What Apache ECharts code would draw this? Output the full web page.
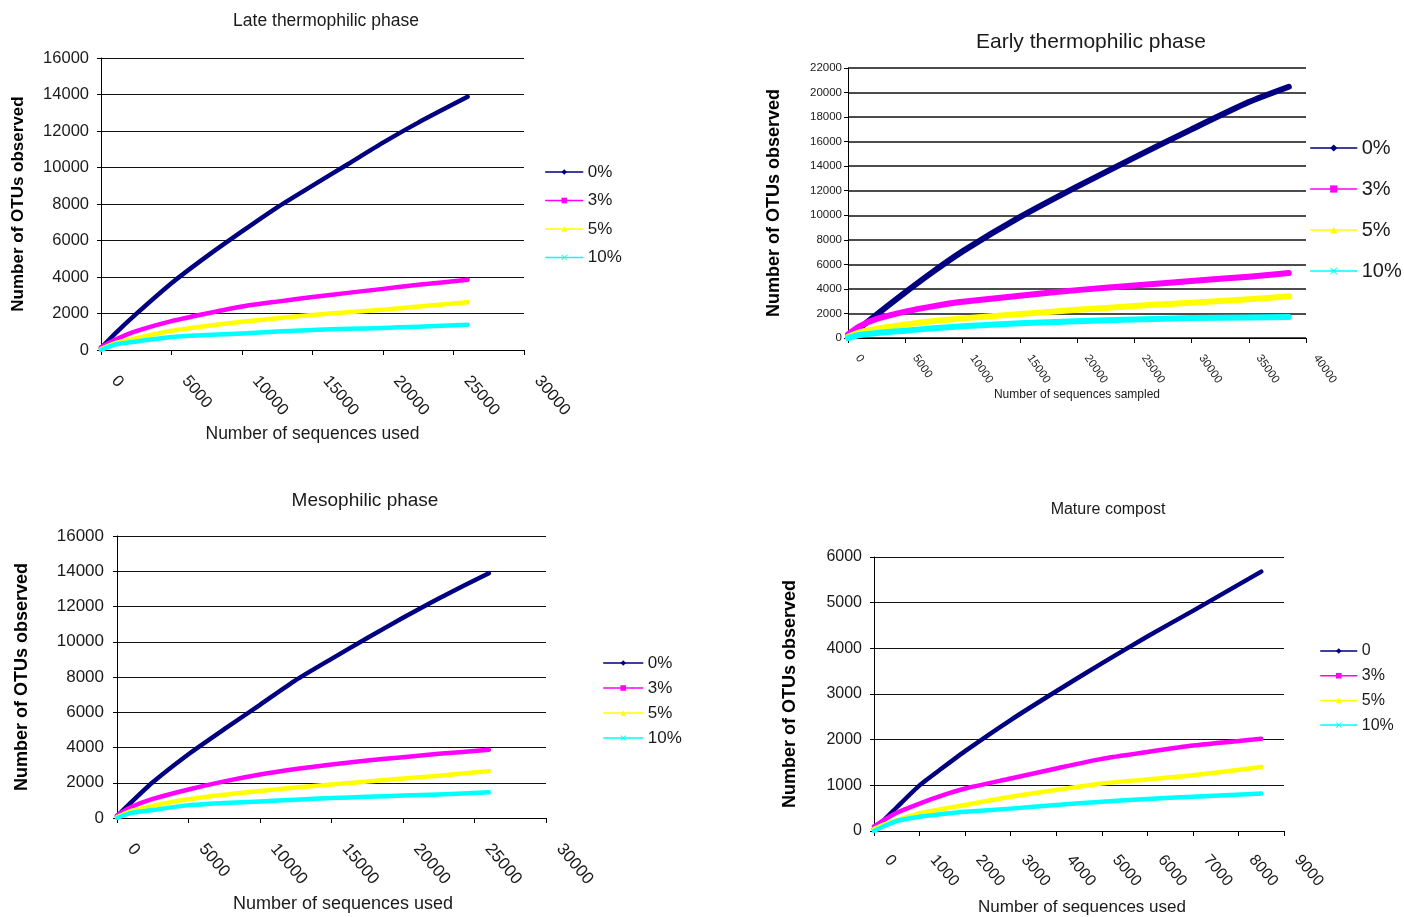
<!DOCTYPE html>
<html>
<head>
<meta charset="utf-8">
<script src="https://cdn.jsdelivr.net/npm/echarts@6/dist/echarts.min.js"></script>
<style>
html, body { margin: 0; padding: 0; background: #fff; }
#main { width: 1404px; height: 917px; }
</style>
</head>
<body>
<div id="main"></div>
<script>
// rarefaction curves, values
var lateX   = [0, 1000, 2500, 5000, 7500, 10000, 12500, 15000, 17500, 20000, 22500, 26000];
var late0   = [100, 900, 1980, 3660, 5130, 6500, 7820, 9010, 10180, 11360, 12460, 13870];
var late3   = [150, 560, 1030, 1580, 2000, 2380, 2650, 2900, 3130, 3350, 3570, 3850];
var late5   = [50, 380, 650, 1050, 1320, 1550, 1740, 1920, 2070, 2210, 2380, 2620];
var late10  = [0, 300, 470, 710, 820, 910, 1010, 1100, 1160, 1210, 1280, 1380];

var earlyX  = [0, 1000, 2500, 5000, 7500, 10000, 15000, 20000, 25000, 30000, 35000, 38500];
var early0  = [200, 800, 1910, 3720, 5450, 7060, 9840, 12330, 14700, 17000, 19220, 20470];
var early3  = [300, 950, 1550, 2150, 2600, 2950, 3450, 3900, 4280, 4650, 5000, 5300];
var early5  = [100, 450, 750, 1100, 1380, 1600, 1950, 2300, 2600, 2880, 3150, 3400];
var early10 = [0, 250, 400, 600, 800, 950, 1200, 1370, 1500, 1620, 1680, 1720];

var mesoX   = [0, 1000, 2500, 5000, 7500, 10000, 12500, 15000, 17500, 20000, 22500, 26000];
var meso0   = [100, 900, 2030, 3620, 5040, 6420, 7820, 9030, 10210, 11360, 12460, 13890];
var meso3   = [150, 620, 1080, 1620, 2080, 2470, 2780, 3040, 3260, 3450, 3640, 3870];
var meso5   = [50, 400, 690, 1060, 1320, 1530, 1730, 1900, 2070, 2240, 2400, 2660];
var meso10  = [0, 290, 450, 730, 850, 940, 1040, 1130, 1200, 1270, 1340, 1460];

var matX    = [0, 250, 500, 1000, 1500, 2000, 3000, 4000, 5000, 6000, 7000, 8500];
var mat0    = [50, 270, 520, 1000, 1380, 1750, 2430, 3060, 3670, 4260, 4820, 5680];
var mat3    = [100, 260, 400, 600, 780, 930, 1150, 1370, 1580, 1730, 1870, 2020];
var mat5    = [50, 150, 240, 385, 480, 570, 750, 900, 1040, 1130, 1220, 1400];
var mat10   = [0, 120, 220, 310, 370, 420, 490, 570, 640, 700, 750, 820];

var levels    = ['0%', '3%', '5%', '10%'];
var matLevels = ['0', '3%', '5%', '10%'];

var colors = ['#000080', '#FF00FF', '#FFFF00', '#00FFFF'];
var cross = 'path://M0,1L1,0L5,4L9,0L10,1L6,5L10,9L9,10L5,6L1,10L0,9L4,5Z';
var symbols = ['diamond', 'rect', 'triangle', cross];
var FONT = '"Liberation Sans", Arial, sans-serif';
var INK = '#1a1a1a';

var plain = function (v) { return String(v); };

var panels = [
    { title: 'Late thermophilic phase', tx: 326, ty: 12, tsize: 17.5,
      grid: { left: 101, top: 58, width: 423, height: 292 },
      xMax: 30000, xInt: 5000, yMax: 16000, yInt: 2000,
      xs: lateX, ys: [late0, late3, late5, late10], names: levels,
      xName: 'Number of sequences used', xGap: 75, xNameSize: 17.5, xNamePad: 0,
      yGap: 74, yNameSize: 17, lab: 16.5, yMargin: 12, rot: -50, xPad: 21, xMargin: 12,
      lw: 4.5, split: 1,
      lg: { left: 545, top: 163.5, w: 37, h: 7, gap: 11.5, size: 17 } },
    { title: 'Early thermophilic phase', tx: 1091, ty: 32, tsize: 21,
      grid: { left: 848, top: 68, width: 458, height: 270 },
      xMax: 40000, xInt: 5000, yMax: 22000, yInt: 2000,
      xs: earlyX, ys: [early0, early3, early5, early10], names: levels,
      xName: 'Number of sequences sampled', xGap: 49, xNameSize: 12, xNamePad: 0,
      yGap: 65, yNameSize: 18, lab: 11.5, yMargin: 6, rot: -55, xPad: 17, xMargin: 4,
      lw: 6, split: 1.5,
      lg: { left: 1310, top: 138, w: 46, h: 9, gap: 21, size: 20 } },
    { title: 'Mesophilic phase', tx: 365, ty: 491, tsize: 19,
      grid: { left: 117, top: 536, width: 429, height: 282 },
      xMax: 30000, xInt: 5000, yMax: 16000, yInt: 2000,
      xs: mesoX, ys: [meso0, meso3, meso5, meso10], names: levels,
      xName: 'Number of sequences used', xGap: 77, xNameSize: 18, xNamePad: 23,
      yGap: 86, yNameSize: 18, lab: 17, yMargin: 13, rot: -50, xPad: 21, xMargin: 12,
      lw: 4.5, split: 1,
      lg: { left: 603, top: 654.5, w: 39, h: 7, gap: 8, size: 17 } },
    { title: 'Mature compost', tx: 1108, ty: 502, tsize: 16,
      grid: { left: 874, top: 557, width: 410, height: 275 },
      xMax: 9000, xInt: 1000, yMax: 6000, yInt: 1000,
      xs: matX, ys: [mat0, mat3, mat5, mat10], names: matLevels,
      xName: 'Number of sequences used', xGap: 68, xNameSize: 17, xNamePad: 6,
      yGap: 75, yNameSize: 18, lab: 16, yMargin: 12, rot: -50, xPad: 21, xMargin: 10,
      lw: 4.5, split: 1,
      lg: { left: 1320, top: 643, w: 36, h: 7, gap: 8.7, size: 16 } }
];

var option = {
    backgroundColor: '#fff',
    animation: false,
    title: [], grid: [], xAxis: [], yAxis: [], legend: [], series: []
};

panels.forEach(function (p, i) {
    option.title.push({
        text: p.title, left: p.tx, top: p.ty, textAlign: 'center', padding: 0,
        textStyle: { fontFamily: FONT, fontSize: p.tsize, fontWeight: 'normal', color: INK }
    });
    option.grid.push(p.grid);
    option.xAxis.push({
        type: 'value', gridIndex: i, min: 0, max: p.xMax, interval: p.xInt,
        name: p.xName, nameLocation: 'middle', nameGap: p.xGap,
        nameTextStyle: { fontFamily: FONT, fontSize: p.xNameSize, color: INK, padding: [0, 0, 0, p.xNamePad] },
        axisLine: { show: true, lineStyle: { color: '#000', width: 1 } },
        axisTick: { show: true, length: 5, lineStyle: { color: '#000' } },
        splitLine: { show: false },
        axisLabel: { rotate: p.rot, margin: p.xMargin, padding: [0, 0, 0, p.xPad], formatter: plain,
            fontFamily: FONT, fontSize: p.lab, color: INK, showMaxLabel: true, showMinLabel: true }
    });
    option.yAxis.push({
        type: 'value', gridIndex: i, min: 0, max: p.yMax, interval: p.yInt,
        name: 'Number of OTUs observed', nameLocation: 'middle', nameGap: p.yGap,
        nameTextStyle: { fontFamily: FONT, fontSize: p.yNameSize, fontWeight: 'bold', color: '#000' },
        axisLine: { show: true, lineStyle: { color: '#000', width: 1 } },
        axisTick: { show: true, length: 4, lineStyle: { color: '#000' } },
        splitLine: { show: true, lineStyle: { color: '#111', width: p.split } },
        axisLabel: { margin: p.yMargin, formatter: plain, fontFamily: FONT, fontSize: p.lab, color: INK }
    });
    option.legend.push({
        data: p.names, orient: 'vertical', left: p.lg.left, top: p.lg.top,
        itemWidth: p.lg.w, itemHeight: p.lg.h, itemGap: p.lg.gap, padding: 0,
        selectedMode: false,
        lineStyle: { width: 1.5 },
        textStyle: { fontFamily: FONT, fontSize: p.lg.size, color: INK }
    });
    p.ys.forEach(function (vals, j) {
        option.series.push({
            type: 'line', name: p.names[j], xAxisIndex: i, yAxisIndex: i,
            data: p.xs.map(function (x, k) { return [x, vals[k]]; }),
            symbol: symbols[j], symbolSize: 6, showSymbol: false,
            smooth: 0.2,
            lineStyle: { color: colors[j], width: p.lw, cap: 'round', join: 'round' },
            itemStyle: { color: colors[j] },
            silent: true
        });
    });
});

var chart = echarts.init(document.getElementById('main'));
chart.setOption(option);
</script>
</body>
</html>
